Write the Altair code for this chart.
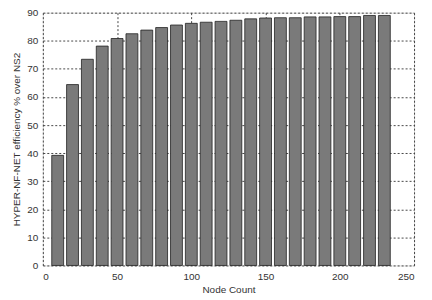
import altair as alt
import pandas as pd

node_count = [10, 20, 30, 40, 50, 60, 70, 80, 90, 100, 110, 120,
              130, 140, 150, 160, 170, 180, 190, 200, 210, 220, 230]
efficiency = [39.2, 64.4, 73.4, 78.1, 80.8, 82.5, 83.8, 84.7, 85.6, 86.2, 86.6, 86.9,
              87.3, 87.8, 88.1, 88.2, 88.2, 88.5, 88.5, 88.6, 88.6, 89.0, 89.0]

df = pd.DataFrame({"nodes": node_count, "eff": efficiency})

font = "Liberation Sans"

x_scale = alt.Scale(domain=[0, 250], nice=False, zero=False)
y_scale = alt.Scale(domain=[0, 90], nice=False)

bars = alt.Chart(df).transform_calculate(
    x0="datum.nodes - 4", x1="datum.nodes + 4"
).mark_bar(color="#7a7a7a", stroke="#222222", strokeWidth=0.8).encode(
    x=alt.X("x0:Q", scale=x_scale,
            axis=alt.Axis(title="Node Count", values=[0, 50, 100, 150, 200, 250],
                          grid=True, gridDash=[2, 2], gridColor="#333333", gridOpacity=0.9,
                          tickSize=0, labelPadding=6, domain=False,
                          labelFont=font, labelFontSize=10, labelColor="#333333",
                          titleFont=font, titleFontSize=10, titleFontWeight="normal",
                          titleColor="#333333", titlePadding=3)),
    x2="x1:Q",
    y=alt.Y("eff:Q", scale=y_scale,
            axis=alt.Axis(title="HYPER-NF-NET efficiency % over NS2",
                          values=list(range(0, 91, 10)),
                          grid=True, gridDash=[2, 2], gridColor="#333333", gridOpacity=0.9,
                          tickSize=0, labelPadding=5, domain=False,
                          labelFont=font, labelFontSize=10, labelColor="#333333",
                          titleFont=font, titleFontSize=10, titleFontWeight="normal",
                          titleColor="#333333", titlePadding=5)),
    y2=alt.datum(0),
)

chart = bars.properties(
    width=373, height=254,
    autosize=alt.AutoSizeParams(type="none"),
    padding={"left": 35, "top": 4, "right": 10, "bottom": 30},
).configure_view(stroke="#222222", strokeWidth=1).configure(background="white")

chart.save("out.html", embed_options={"renderer": "svg", "actions": False})
